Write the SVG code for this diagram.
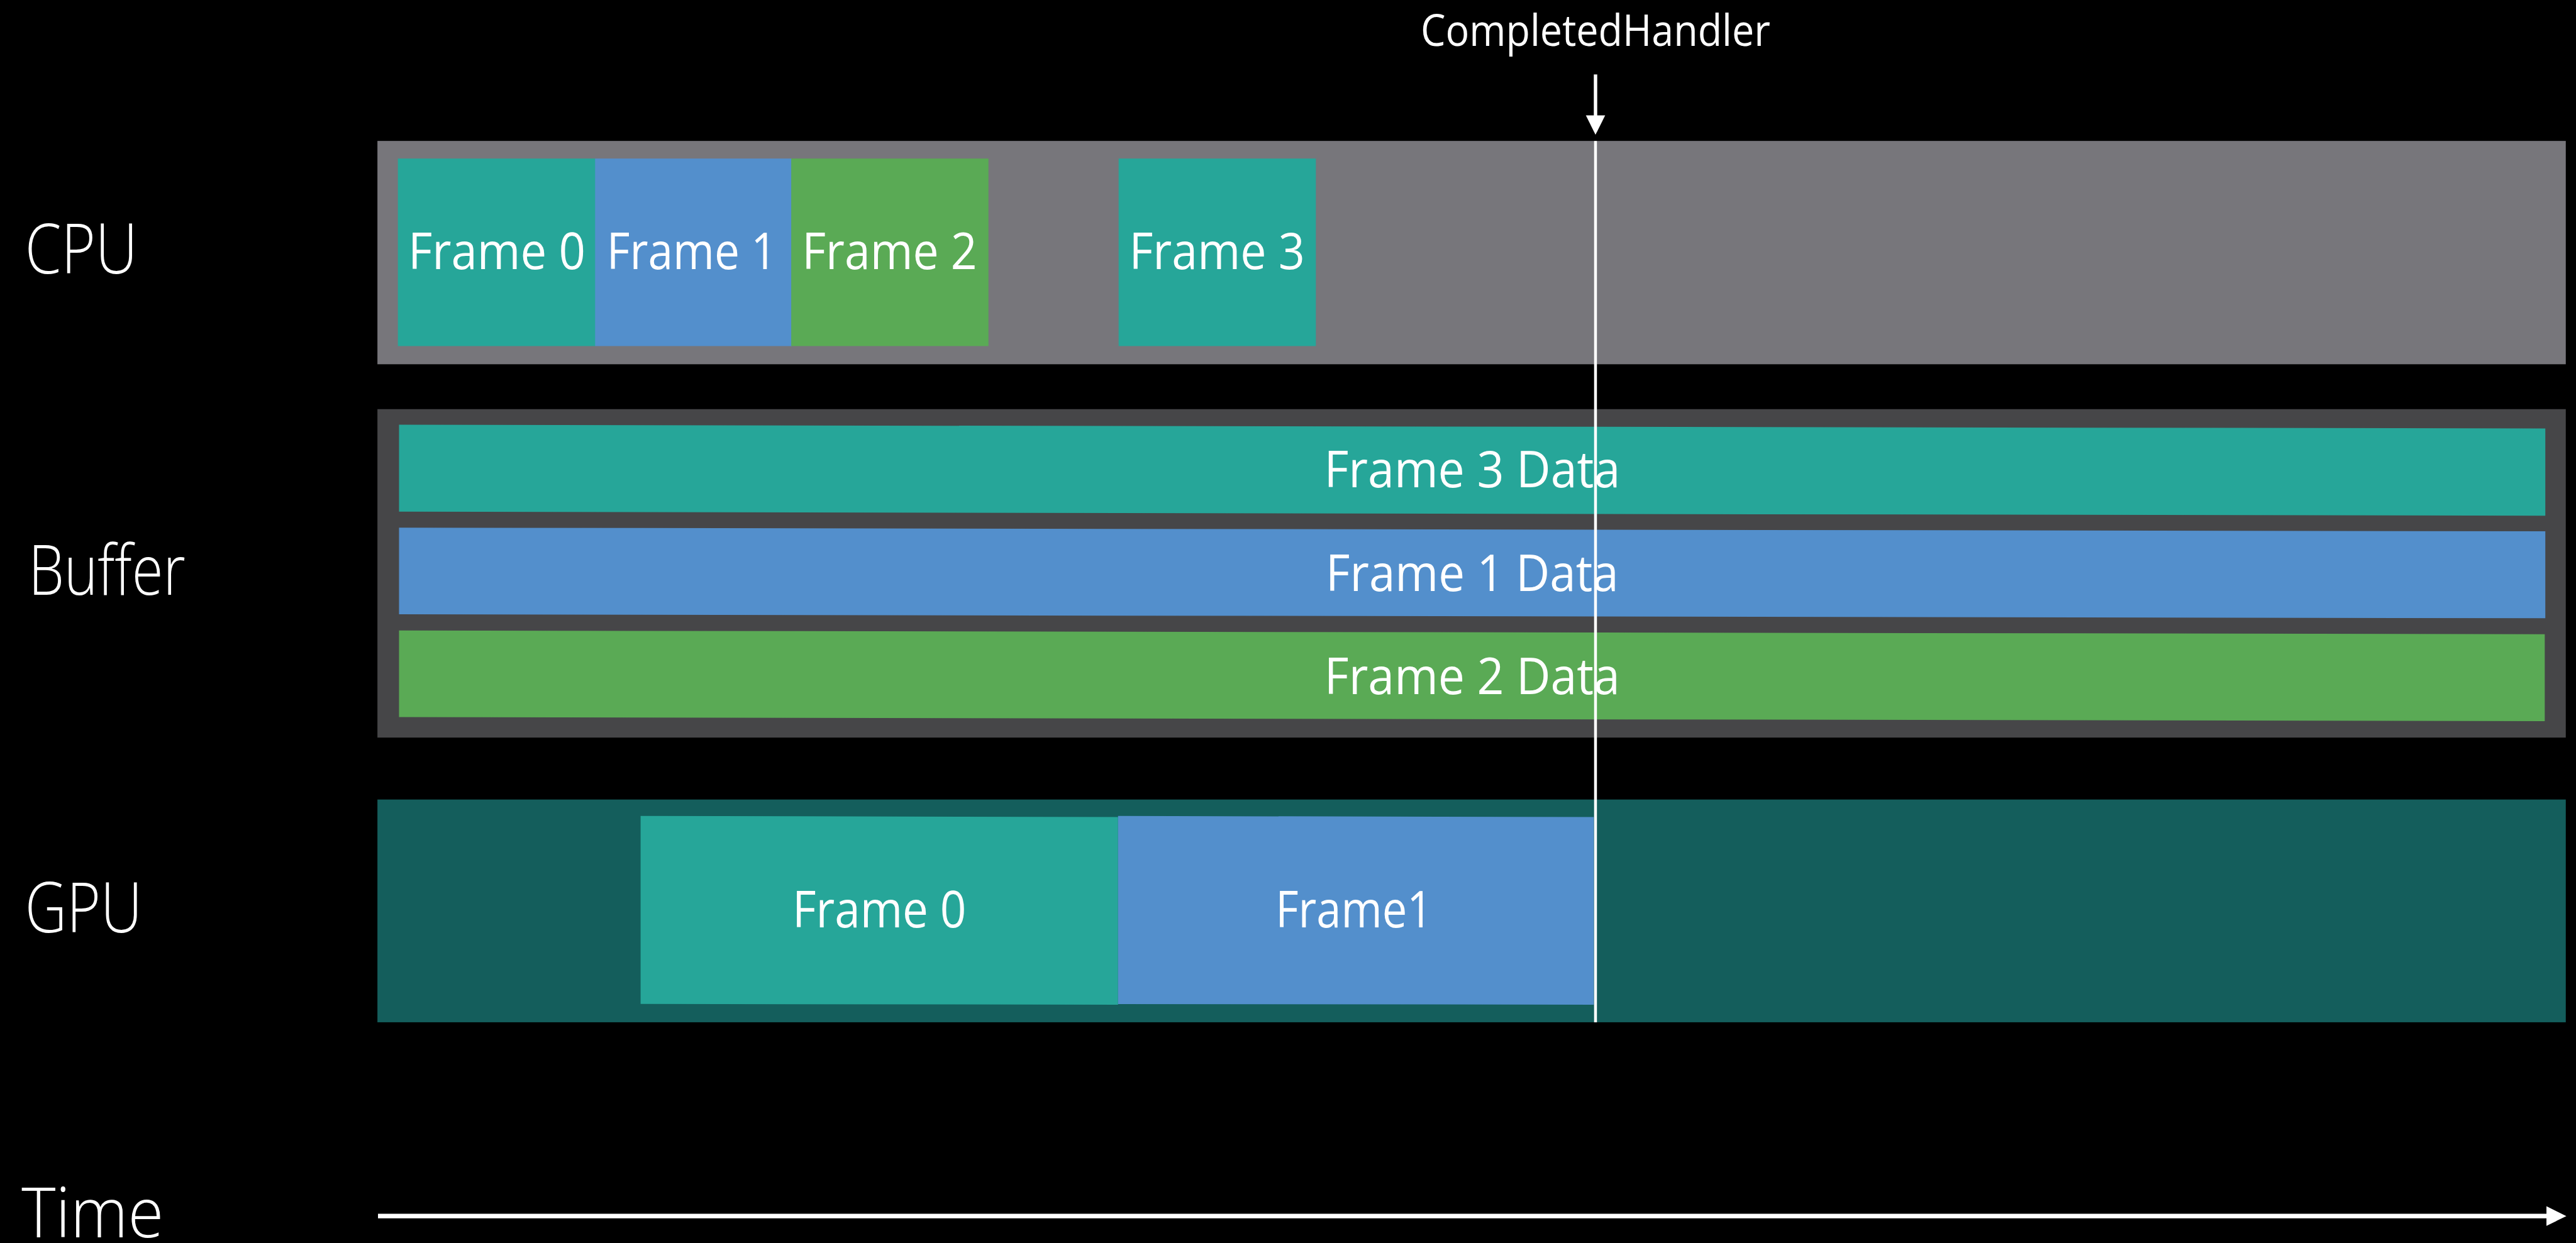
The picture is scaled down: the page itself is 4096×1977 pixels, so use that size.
<svg xmlns="http://www.w3.org/2000/svg" width="4096" height="1977" viewBox="0 0 4096 1977">
  <defs>
    <style>
      .lbl { font-family: "Open Sans", "Noto Sans", "Liberation Sans", sans-serif; fill: #ffffff; }
      .lane { font-size: 122px; font-weight: 300; }
      .frm { font-size: 90px; text-anchor: middle; }
      .note { font-size: 77px; text-anchor: middle; }
      .teal { fill: #26a699; }
      .blue { fill: #538fcc; }
      .green { fill: #5aaa55; }
      .cpu-bg { fill: #77767b; }
      .buf-bg { fill: #464648; }
      .gpu-bg { fill: #145e5c; }
      .wire { stroke: #ffffff; fill: none; }
      .head { fill: #ffffff; }
    </style>
  </defs>

  <rect x="0" y="0" width="4096" height="1977" fill="#000000"/>

  <!-- layout is authored in 4532x2187 units and scaled to the canvas -->
  <g transform="scale(0.9038)">

    <!-- lane captions -->
    <g id="label-cpu"><text class="lbl lane" x="44" y="481" textLength="198" lengthAdjust="spacingAndGlyphs">CPU</text></g>
    <g id="label-buffer"><text class="lbl lane" x="50" y="1047" textLength="276" lengthAdjust="spacingAndGlyphs">Buffer</text></g>
    <g id="label-gpu"><text class="lbl lane" x="44" y="1641" textLength="206" lengthAdjust="spacingAndGlyphs">GPU</text></g>
    <g id="label-time"><text class="lbl lane" x="38" y="2178" textLength="250" lengthAdjust="spacingAndGlyphs">Time</text></g>

    <!-- CPU lane -->
    <g id="cpu-lane">
      <rect class="cpu-bg" x="664" y="248" width="3850" height="393"/>
    </g>
    <g id="cpu-frame-0">
      <rect class="teal" x="700" y="279" width="348" height="330"/>
      <text class="lbl frm" x="874" y="474" textLength="312" lengthAdjust="spacingAndGlyphs">Frame 0</text>
    </g>
    <g id="cpu-frame-1">
      <rect class="blue" x="1047" y="279" width="346" height="330"/>
      <text class="lbl frm" x="1217" y="474" textLength="299" lengthAdjust="spacingAndGlyphs">Frame 1</text>
    </g>
    <g id="cpu-frame-2">
      <rect class="green" x="1392" y="279" width="347" height="330"/>
      <text class="lbl frm" x="1565" y="474" textLength="308" lengthAdjust="spacingAndGlyphs">Frame 2</text>
    </g>
    <g id="cpu-frame-3">
      <rect class="teal" x="1968" y="279" width="347" height="330"/>
      <text class="lbl frm" x="2141" y="474" textLength="309" lengthAdjust="spacingAndGlyphs">Frame 3</text>
    </g>

    <!-- Buffer lane -->
    <g id="buffer-lane">
      <rect class="buf-bg" x="664" y="720" width="3850" height="578"/>
    </g>
    <g id="buffer-slot-frame-3">
      <polygon class="teal" points="702,747.5 4478,754 4478,907.5 702,900.5"/>
      <text class="lbl frm" x="2590" y="858" textLength="521" lengthAdjust="spacingAndGlyphs">Frame 3 Data</text>
    </g>
    <g id="buffer-slot-frame-1">
      <polygon class="blue" points="702,928.5 4478,935 4478,1088 702,1081"/>
      <text class="lbl frm" x="2590" y="1040" textLength="515" lengthAdjust="spacingAndGlyphs">Frame 1 Data</text>
    </g>
    <g id="buffer-slot-frame-2">
      <polygon class="green" points="702,1109.5 4477,1116 4477,1269 702,1262"/>
      <text class="lbl frm" x="2590" y="1221" textLength="520" lengthAdjust="spacingAndGlyphs">Frame 2 Data</text>
    </g>

    <!-- GPU lane -->
    <g id="gpu-lane">
      <rect class="gpu-bg" x="664" y="1407" width="3850" height="392"/>
    </g>
    <g id="gpu-frame-0">
      <polygon class="teal" points="1127,1436 1967,1437.7 1967,1768 1127,1766.7"/>
      <text class="lbl frm" x="1547" y="1632" textLength="306" lengthAdjust="spacingAndGlyphs">Frame 0</text>
    </g>
    <g id="gpu-frame-1">
      <polygon class="blue" points="1967,1436 2804,1437.7 2804,1768 1967,1767"/>
      <text class="lbl frm" x="2382" y="1632" textLength="276" lengthAdjust="spacingAndGlyphs">Frame1</text>
    </g>

    <!-- completion marker caption -->
    <g id="completed-handler">
      <text class="lbl note" x="2807" y="81" textLength="615" lengthAdjust="spacingAndGlyphs">CompletedHandler</text>
    </g>

    <!-- connectors: completion marker and time axis -->
    <g id="connectors">
      <line class="wire" x1="2807" y1="131" x2="2807" y2="205" stroke-width="6"/>
      <polygon class="head" points="2790,203 2824,203 2807,237"/>
      <line class="wire" x1="2807" y1="248" x2="2807" y2="1799" stroke-width="5"/>
      <line class="wire" x1="665" y1="2140" x2="4482" y2="2140" stroke-width="8"/>
      <polygon class="head" points="4480,2122.7 4515,2140 4480,2157.3"/>
    </g>
  </g>
</svg>
